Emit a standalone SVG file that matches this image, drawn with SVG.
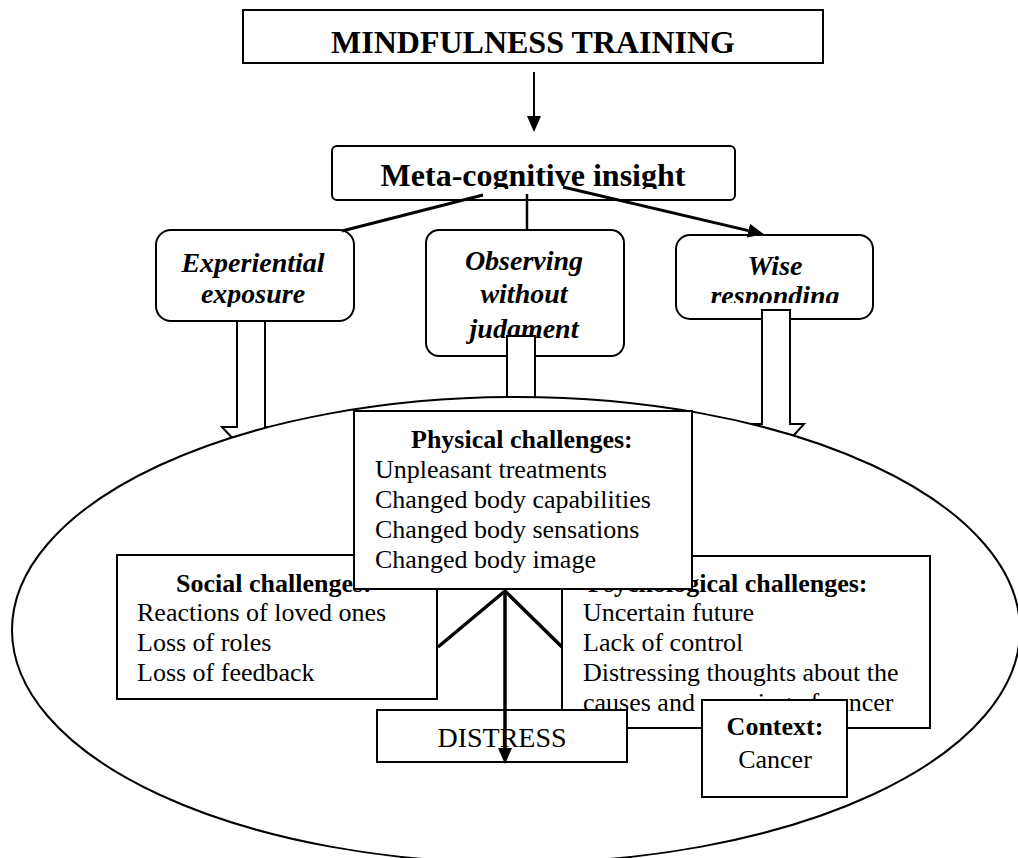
<svg xmlns="http://www.w3.org/2000/svg" width="1018" height="858" viewBox="0 0 1018 858">
<style>
text{font-family:"Liberation Serif","Times New Roman",serif;fill:#000}
.b{font-weight:bold}
.t32{font-size:32px;font-weight:bold;text-anchor:middle}
.it{font-size:28px;font-weight:bold;font-style:italic;text-anchor:middle}
.r26{font-size:26px}
.box{fill:#fff;stroke:#000;stroke-width:2}
.ln{fill:none;stroke:#000}
</style>
<defs>
<marker id="ah" markerWidth="16" markerHeight="14" refX="0" refY="7" orient="auto" markerUnits="userSpaceOnUse"><path d="M0,0 L16,7 L0,14 z" fill="#000"/></marker>
<clipPath id="cMeta"><rect x="332" y="146" width="403" height="43"/></clipPath>
<clipPath id="cExp"><rect x="156" y="230" width="198" height="77"/></clipPath>
<clipPath id="cObs"><rect x="426" y="230" width="198" height="114"/></clipPath>
<clipPath id="cWise"><rect x="676" y="235" width="197" height="68"/></clipPath>
</defs>
<rect width="1018" height="858" fill="#fff"/>

<g id="mindfulness">
<rect class="box" x="243" y="10" width="580" height="53"/>
<text class="t32" x="533" y="53">MINDFULNESS TRAINING</text>
</g>

<g id="meta">
<rect class="box" x="332" y="146" width="403" height="54" rx="5"/>
<text class="t32" x="533" y="186" clip-path="url(#cMeta)">Meta-cognitive insight</text>
</g>

<g id="experiential">
<rect class="box" x="156" y="230" width="198" height="91" rx="15"/>
<g clip-path="url(#cExp)">
<text class="it" x="253" y="272">Experiential</text>
<text class="it" x="253" y="303">exposure</text>
</g>
</g>

<g id="observing">
<rect class="box" x="426" y="230" width="198" height="126" rx="13"/>
<g clip-path="url(#cObs)">
<text class="it" x="524" y="270">Observing</text>
<text class="it" x="524" y="303">without</text>
<text class="it" x="524" y="338">judgment</text>
</g>
</g>

<g id="wise">
<rect class="box" x="676" y="235" width="197" height="84" rx="14"/>
<g clip-path="url(#cWise)">
<text class="it" x="775" y="275">Wise</text>
<text class="it" x="775" y="305">responding</text>
</g>
</g>

<g id="block-arrows">
<polygon class="box" points="237,321 265,321 265,427 280,427 251,458 222,427 237,427"/>
<polygon class="box" points="507,336 535,336 535,425 550,425 521,456 492,425 507,425"/>
<polygon class="box" points="762,310 790,310 790,424 804,424 776,455 748,424 762,424"/>
</g>

<g id="context-ellipse">
<ellipse cx="516" cy="630" rx="504" ry="233" fill="#fff" stroke="#000" stroke-width="2"/>
</g>

<g id="social">
<rect class="box" x="117" y="555" width="320" height="144"/>
<text class="r26 b" x="176" y="592">Social challenges:</text>
<text class="r26" x="137" y="621">Reactions of loved ones</text>
<text class="r26" x="137" y="651">Loss of roles</text>
<text class="r26" x="137" y="681">Loss of feedback</text>
</g>

<g id="psychological">
<rect class="box" x="562" y="556" width="368" height="172"/>
<text class="r26 b" x="588" y="592">Psychological challenges:</text>
<text class="r26" x="583" y="621">Uncertain future</text>
<text class="r26" x="583" y="651">Lack of control</text>
<text class="r26" x="583" y="681">Distressing thoughts about the</text>
<text class="r26" x="583" y="711">causes and meaning of cancer</text>
</g>

<g id="physical">
<rect class="box" x="354" y="411" width="338" height="178" stroke-width="2.5"/>
<text class="r26 b" x="411" y="448">Physical challenges:</text>
<text class="r26" x="375" y="478">Unpleasant treatments</text>
<text class="r26" x="375" y="508">Changed body capabilities</text>
<text class="r26" x="375" y="538">Changed body sensations</text>
<text class="r26" x="375" y="568">Changed body image</text>
</g>

<g id="distress">
<rect class="box" x="377" y="710" width="250" height="52"/>
<text x="502" y="747" style="font-size:28px;text-anchor:middle">DISTRESS</text>
</g>

<g id="context">
<rect class="box" x="702" y="700" width="145" height="97"/>
<text class="r26 b" x="775" y="735" text-anchor="middle">Context:</text>
<text class="r26" x="775" y="768" text-anchor="middle">Cancer</text>
</g>

<g id="connectors">
<line class="ln" x1="534" y1="72" x2="534" y2="116" stroke-width="2" marker-end="url(#ah)"/>
<line class="ln" x1="483" y1="195" x2="342" y2="231" stroke-width="3"/>
<line class="ln" x1="527" y1="194" x2="527" y2="230" stroke-width="2.5"/>
<line class="ln" x1="563" y1="187" x2="748.4" y2="230.6" stroke-width="3" marker-end="url(#ah)"/>
<polyline class="ln" points="438,647 505,591 562,647" stroke-width="3.5"/>
<line class="ln" x1="505" y1="591" x2="505" y2="748" stroke-width="3.5" marker-end="url(#ah)"/>
</g>
</svg>
